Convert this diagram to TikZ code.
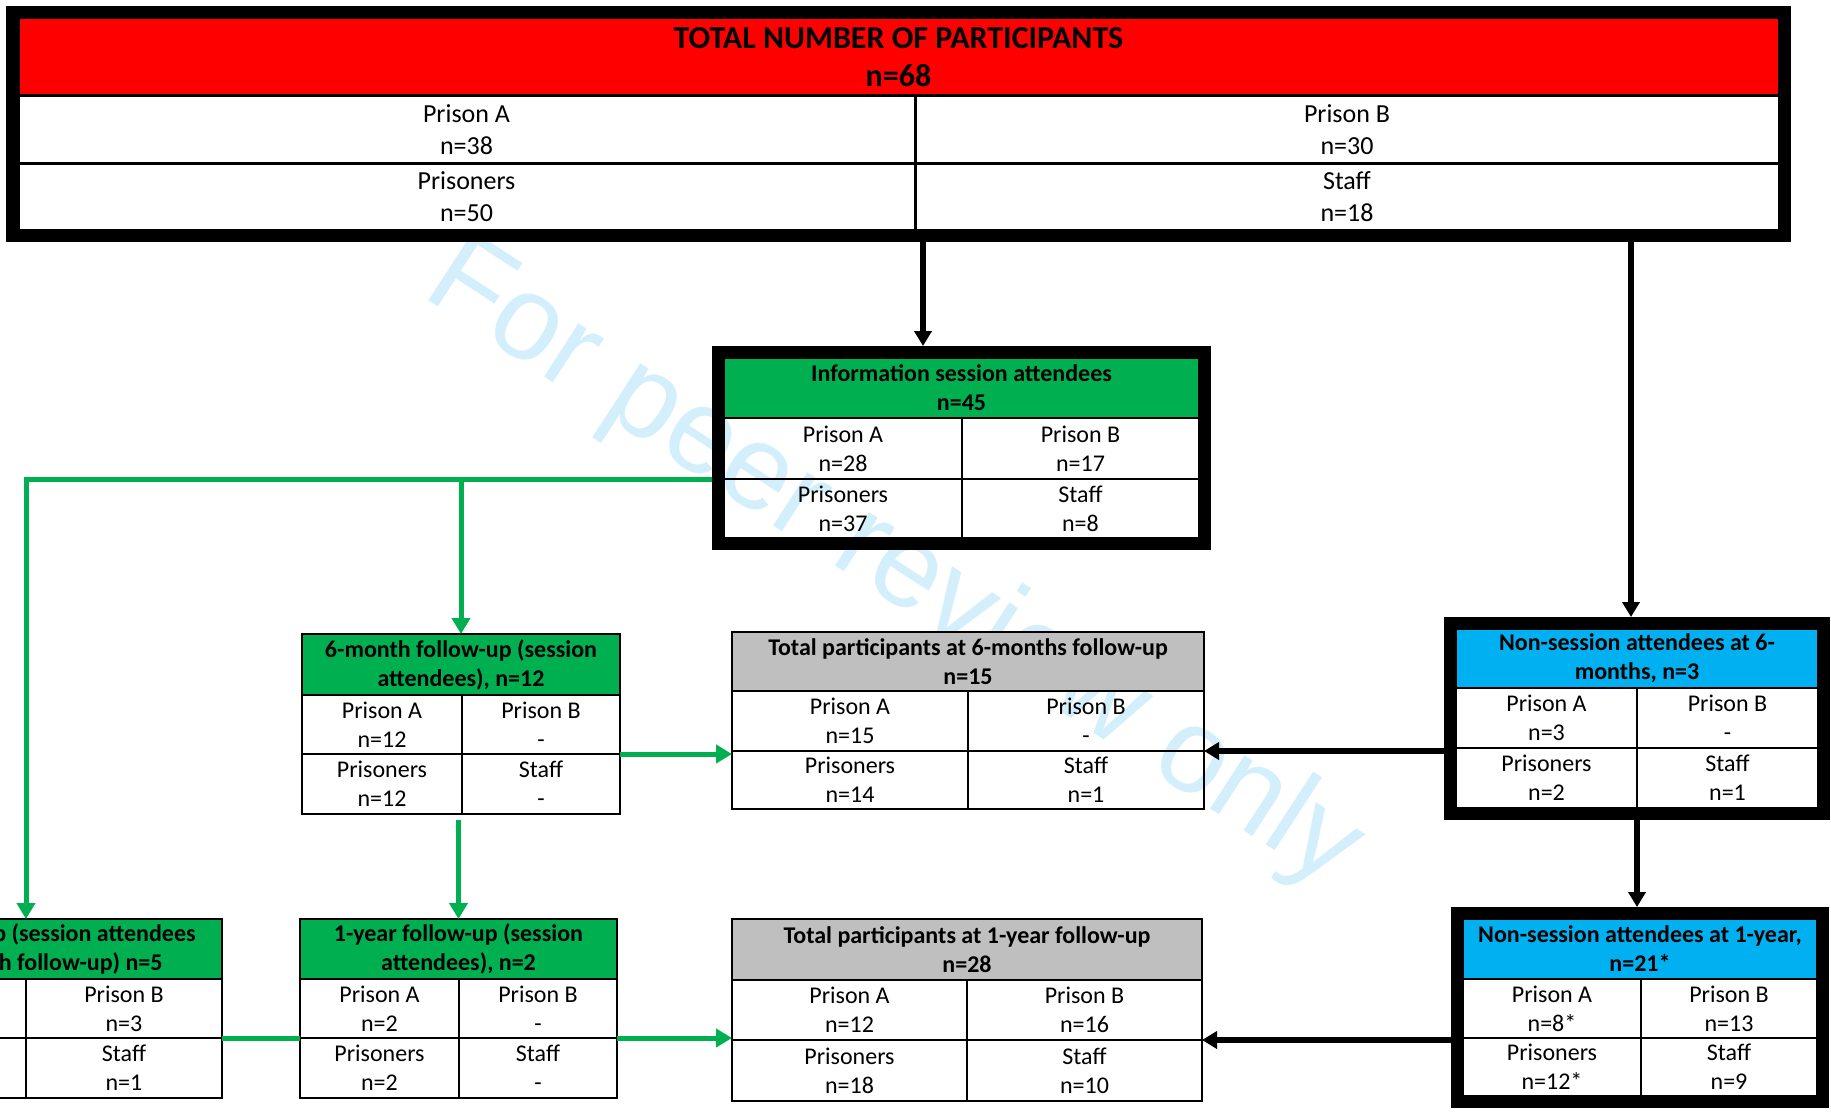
\documentclass[tikz,border=0pt]{standalone}
\usepackage{fontspec}
\setmainfont{Carlito}
\newfontfamily\wmfont{Liberation Sans}
\usetikzlibrary{arrows.meta,fit}

\definecolor{headred}{RGB}{255,0,0}
\definecolor{sessgreen}{RGB}{0,176,80}
\definecolor{nonblue}{RGB}{0,176,240}
\definecolor{totgray}{RGB}{191,191,191}
\definecolor{wmblue}{RGB}{212,239,252}

\tikzset{
  cell/.style={draw, line width=1pt, inner sep=0pt, outer sep=0pt, anchor=north west,
    align=center, font=\fontsize{12}{14.5}\selectfont},
  wh/.style 2 args={minimum width=#1*0.5pt, minimum height=#2*0.5pt},
  boxhead/.style={cell, font=\fontsize{12}{14.5}\selectfont\bfseries},
  thickframe/.style={draw, line width=6pt, inner sep=3pt},
  blkarrow/.style={line width=2.6pt, -{Triangle[length=7.5pt,width=8.5pt]}},
  grnarrow/.style={draw=sessgreen, line width=2.5pt, -{Triangle[length=8pt,width=9pt]}},
  grnline/.style={draw=sessgreen, line width=2.5pt}
}

\begin{document}
\begin{tikzpicture}[x=0.5pt,y=-0.5pt]
  \useasboundingbox (0,0) rectangle (1831,1113);
  \clip (0,0) rectangle (1831,1113);
  \fill[white] (0,0) rectangle (1831,1113);

  % watermark
  \node[wmblue, rotate=-33, font=\wmfont\fontsize{60}{60}\selectfont] (wm) at (893,566) {For peer review only};

  % total number of participants
  \node[boxhead, fill=headred, wh={1761}{78}, line width=1.5pt,
    font=\fontsize{16}{19.3}\selectfont\bfseries] (T-h) at (18,18) {TOTAL NUMBER OF PARTICIPANTS\\n=68};
  \node[cell, wh={897}{67}, line width=1.5pt, font=\fontsize{13}{15.75}\selectfont] (T-a) at (T-h.south west) {Prison A\\n=38};
  \node[cell, wh={864}{67}, line width=1.5pt, font=\fontsize{13}{15.75}\selectfont] (T-b) at (T-a.north east) {Prison B\\n=30};
  \node[cell, wh={897}{67}, line width=1.5pt, font=\fontsize{13}{15.75}\selectfont] (T-c) at (T-a.south west) {Prisoners\\n=50};
  \node[cell, wh={864}{67}, line width=1.5pt, font=\fontsize{13}{15.75}\selectfont] (T-d) at (T-c.north east) {Staff\\n=18};
  \node[thickframe, fit=(T-h)(T-d)] (T) {};

  % information session attendees
  \node[boxhead, fill=sessgreen, wh={475}{60}] (I-h) at (724,358) {Information session attendees\\n=45};
  \node[cell, wh={238}{61}] (I-a) at (I-h.south west) {Prison A\\n=28};
  \node[cell, wh={237}{61}] (I-b) at (I-a.north east) {Prison B\\n=17};
  \node[cell, wh={238}{59}] (I-c) at (I-a.south west) {Prisoners\\n=37};
  \node[cell, wh={237}{59}] (I-d) at (I-c.north east) {Staff\\n=8};
  \node[thickframe, fit=(I-h)(I-d)] (I) {};

  % 6-month follow-up, session attendees
  \node[boxhead, fill=sessgreen, wh={318}{61}] (S6-h) at (302,634) {6-month follow-up (session\\attendees), n=12};
  \node[cell, wh={160}{59}] (S6-a) at (S6-h.south west) {Prison A\\n=12};
  \node[cell, wh={158}{59}] (S6-b) at (S6-a.north east) {Prison B\\-};
  \node[cell, wh={160}{60}] (S6-c) at (S6-a.south west) {Prisoners\\n=12};
  \node[cell, wh={158}{60}] (S6-d) at (S6-c.north east) {Staff\\-};

  % total at 6 months
  \node[boxhead, fill=totgray, wh={472}{59}] (T6-h) at (732,632) {Total participants at 6-months follow-up\\n=15};
  \node[cell, wh={236}{60}] (T6-a) at (T6-h.south west) {Prison A\\n=15};
  \node[cell, wh={236}{60}] (T6-b) at (T6-a.north east) {Prison B\\-};
  \node[cell, wh={236}{58}] (T6-c) at (T6-a.south west) {Prisoners\\n=14};
  \node[cell, wh={236}{58}] (T6-d) at (T6-c.north east) {Staff\\n=1};

  % non-session attendees at 6 months
  \node[boxhead, fill=nonblue, wh={362}{59}] (NS6-h) at (1456,629) {Non-session attendees at 6-\\months, n=3};
  \node[cell, wh={181}{60}] (NS6-a) at (NS6-h.south west) {Prison A\\n=3};
  \node[cell, wh={181}{60}] (NS6-b) at (NS6-a.north east) {Prison B\\-};
  \node[cell, wh={181}{60}] (NS6-c) at (NS6-a.south west) {Prisoners\\n=2};
  \node[cell, wh={181}{60}] (NS6-d) at (NS6-c.north east) {Staff\\n=1};
  \node[thickframe, fit=(NS6-h)(NS6-d)] (NS6) {};

  % 1-year follow-up, session attendees with 6-month follow-up
  \node[boxhead, fill=sessgreen, wh={406}{60}] (L-h) at (-184,919) {1-year follow-up (session attendees\\with 6-month follow-up) n=5};
  \node[cell, wh={210}{59}] (L-a) at (L-h.south west) {};
  \node[cell, wh={196}{59}] (L-b) at (L-a.north east) {Prison B\\n=3};
  \node[cell, wh={210}{60}] (L-c) at (L-a.south west) {};
  \node[cell, wh={196}{60}] (L-d) at (L-c.north east) {Staff\\n=1};

  % 1-year follow-up, session attendees
  \node[boxhead, fill=sessgreen, wh={317}{60}] (S1-h) at (300,919) {1-year follow-up (session\\attendees), n=2};
  \node[cell, wh={159}{59}] (S1-a) at (S1-h.south west) {Prison A\\n=2};
  \node[cell, wh={158}{59}] (S1-b) at (S1-a.north east) {Prison B\\-};
  \node[cell, wh={159}{60}] (S1-c) at (S1-a.south west) {Prisoners\\n=2};
  \node[cell, wh={158}{60}] (S1-d) at (S1-c.north east) {Staff\\-};

  % total at 1 year
  \node[boxhead, fill=totgray, wh={470}{61}, line width=1.3pt] (T1-h) at (732,919) {Total participants at 1-year follow-up\\n=28};
  \node[cell, wh={235}{60}, line width=1.3pt] (T1-a) at (T1-h.south west) {Prison A\\n=12};
  \node[cell, wh={235}{60}, line width=1.3pt] (T1-b) at (T1-a.north east) {Prison B\\n=16};
  \node[cell, wh={235}{61}, line width=1.3pt] (T1-c) at (T1-a.south west) {Prisoners\\n=18};
  \node[cell, wh={235}{61}, line width=1.3pt] (T1-d) at (T1-c.north east) {Staff\\n=10};

  % non-session attendees at 1 year
  \node[boxhead, fill=nonblue, wh={354}{60}] (NS1-h) at (1463,919) {Non-session attendees at 1-year,\\n=21*};
  \node[cell, wh={178}{59}] (NS1-a) at (NS1-h.south west) {Prison A\\n=8*};
  \node[cell, wh={176}{59}] (NS1-b) at (NS1-a.north east) {Prison B\\n=13};
  \node[cell, wh={178}{58}] (NS1-c) at (NS1-a.south west) {Prisoners\\n=12*};
  \node[cell, wh={176}{58}] (NS1-d) at (NS1-c.north east) {Staff\\n=9};
  \node[thickframe, fit=(NS1-h)(NS1-d)] (NS1) {};

  % black connectors
  \coordinate (tIx) at (923,0);
  \coordinate (tNx) at (1631,0);
  \draw[blkarrow] (T.south -| tIx) -- (I.north -| tIx);
  \draw[blkarrow] (T.south -| tNx) -- (NS6.north -| tNx);
  \draw[blkarrow] (NS6.west |- T6-a.south) -- (T6-b.south east);
  \draw[blkarrow] (NS6.south) -- (NS6.south |- NS1.north);
  \draw[blkarrow] (NS1.west |- T1-a.south) -- (T1-b.south east);

  % green connectors
  \draw[grnarrow] (I.west |- I-a.south) -| (L-h.north -| L-b.west);
  \draw[grnarrow] (S6-h.north |- I-a.south) -- (S6-h.north);
  \draw[grnarrow] (S6-b.south east) -- (S6-b.south east -| T6-a.west);
  \draw[grnarrow, shorten <=3pt] (S1-h.north |- S6-c.south) -- (S1-h.north);
  \draw[grnline] (L-b.south east) -- (S1-a.south west);
  \draw[grnarrow] (S1-b.south east) -- (S1-b.south east -| T1-a.west);
\end{tikzpicture}
\end{document}
